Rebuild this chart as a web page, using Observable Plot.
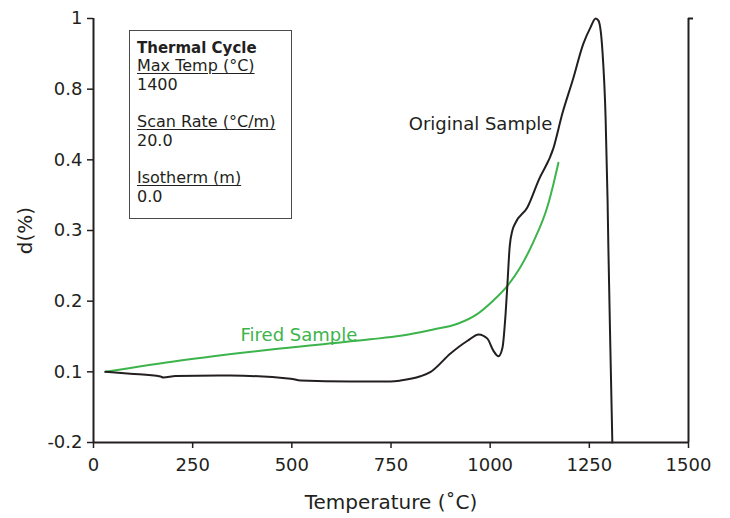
<!DOCTYPE html>
<html>
<head>
<meta charset="utf-8">
<script src="https://cdn.jsdelivr.net/npm/d3@7"></script>
<script src="https://cdn.jsdelivr.net/npm/@observablehq/plot@0.6"></script>
<style>
  body { margin: 0; background: #fff; }
  #chart { position: relative; width: 730px; height: 518px; font-family: "DejaVu Sans", sans-serif; color: #231f20; }
  #legend { position: absolute; left: 129px; top: 30px; width: 163px; height: 189px; box-sizing: border-box;
            border: 1.3px solid #4a4a4a; padding: 7.5px 0 0 7px; background: #fff; }
  #legend div { line-height: 18.7px; height: 18.7px; font-size: 16px; white-space: nowrap; }
  #legend .title { font-weight: bold; font-size: 15px; }
  #legend .u { text-decoration: underline; text-decoration-thickness: 1px; text-underline-offset: 2px; }
</style>
</head>
<body>
<div id="chart"></div>
<script>
// Y-axis tick values (the reference axis is evenly spaced but non-uniformly labelled)
const yTicks = [-0.2, 0.1, 0.2, 0.3, 0.4, 0.8, 1];
const xTicks = [0, 250, 500, 750, 1000, 1250, 1500];

// Original Sample (black)
const origTemp = [30, 93, 169, 176, 207, 345, 497, 522, 648, 749, 774, 824, 850, 900, 943, 971, 993, 1008, 1021, 1031, 1039, 1044, 1049, 1056, 1064, 1094, 1122, 1160, 1182, 1208, 1235, 1253, 1266, 1273, 1283, 1291, 1296, 1298, 1303, 1308];
const origVal  = [0.1, 0.092, 0.080, 0.076, 0.082, 0.084, 0.071, 0.063, 0.059, 0.059, 0.063, 0.081, 0.1, 0.126, 0.144, 0.153, 0.147, 0.130, 0.122, 0.134, 0.183, 0.229, 0.276, 0.3, 0.311, 0.333, 0.371, 0.470, 0.662, 0.825, 0.929, 0.975, 1.0, 0.994, 0.909, 0.639, 0.342, 0.276, 0.134, -0.2];

// Fired Sample (green)
const fireTemp = [30, 219, 471, 698, 774, 857, 918, 968, 1008, 1044, 1076, 1109, 1145, 1160, 1172];
const fireVal  = [0.1, 0.116, 0.133, 0.146, 0.151, 0.160, 0.168, 0.182, 0.201, 0.222, 0.248, 0.284, 0.335, 0.367, 0.396];

// Legend text
const legendTitle = "Thermal Cycle";
const legendItems = [["Max Temp (°C)", "1400"], ["Scan Rate (°C/m)", "20.0"], ["Isotherm (m)", "0.0"]];

const orig = origTemp.map((t, i) => ({t, v: origVal[i]}));
const fire = fireTemp.map((t, i) => ({t, v: fireVal[i]}));

const W = 730, H = 518, mT = 18, mB = 76, mL = 93, mR = 42;
const yBottom = H - mB, yTop = mT;
const yRange = yTicks.map((_, i) => yBottom - i * (yBottom - yTop) / (yTicks.length - 1));

const ink = "#231f20";
const green = "#3cb44b";

const plot = Plot.plot({
  width: W, height: H,
  marginTop: mT, marginBottom: mB, marginLeft: mL, marginRight: mR,
  style: { fontFamily: "DejaVu Sans, sans-serif", fontSize: "18px", color: ink, background: "#fff" },
  x: { type: "linear", domain: [0, 1500], axis: null },
  y: { type: "linear", domain: yTicks, range: yRange, axis: null },
  marks: [
    Plot.axisX({ ticks: xTicks, tickSize: 6, tickPadding: 10, strokeWidth: 1.5, stroke: ink, fill: ink, fontSize: 18, label: null,
                 tickFormat: d => String(d) }),
    Plot.axisY({ ticks: yTicks, tickSize: 6, tickPadding: 5, strokeWidth: 1.5, stroke: ink, fill: ink, fontSize: 18, label: null,
                 tickFormat: d => String(d) }),
    Plot.ruleX([0], { stroke: ink, strokeWidth: 2 }),
    Plot.ruleX([1500], { stroke: ink, strokeWidth: 2 }),
    Plot.ruleY([1], { x1: 1500, x2: 1500, insetRight: -5, stroke: ink, strokeWidth: 2 }),
    Plot.ruleY([-0.2], { stroke: ink, strokeWidth: 2 }),
    Plot.line(fire, { x: "t", y: "v", stroke: green, strokeWidth: 2, curve: "monotone-x" }),
    Plot.line(orig, { x: "t", y: "v", stroke: ink, strokeWidth: 2, curve: "monotone-x" }),
    Plot.text(["Original Sample"], { x: 1157, y: 0.604, text: d => d, textAnchor: "end", lineAnchor: "middle", fill: ink, fontSize: 18 }),
    Plot.text(["Fired Sample"], { x: 665, y: 0.152, text: d => d, textAnchor: "end", lineAnchor: "middle", fill: green, fontSize: 18 }),
    Plot.text(["Temperature (˚C)"], { frameAnchor: "bottom", text: d => d, dy: 59.6, textAnchor: "middle", lineAnchor: "middle", fill: ink, fontSize: 20 }),
    Plot.text(["d(%)"], { frameAnchor: "left", text: d => d, dx: -68.4, rotate: -90, textAnchor: "middle", lineAnchor: "middle", fill: ink, fontSize: 20 })
  ]
});

const chart = document.getElementById("chart");
chart.appendChild(plot);

const legend = document.createElement("div");
legend.id = "legend";
const t = document.createElement("div");
t.className = "title"; t.textContent = legendTitle;
legend.appendChild(t);
legendItems.forEach(([head, val], i) => {
  const h = document.createElement("div"); h.className = "u"; h.textContent = head; legend.appendChild(h);
  const v = document.createElement("div"); v.textContent = val; legend.appendChild(v);
  if (i < legendItems.length - 1) { const b = document.createElement("div"); legend.appendChild(b); }
});
chart.appendChild(legend);
</script>
</body>
</html>
